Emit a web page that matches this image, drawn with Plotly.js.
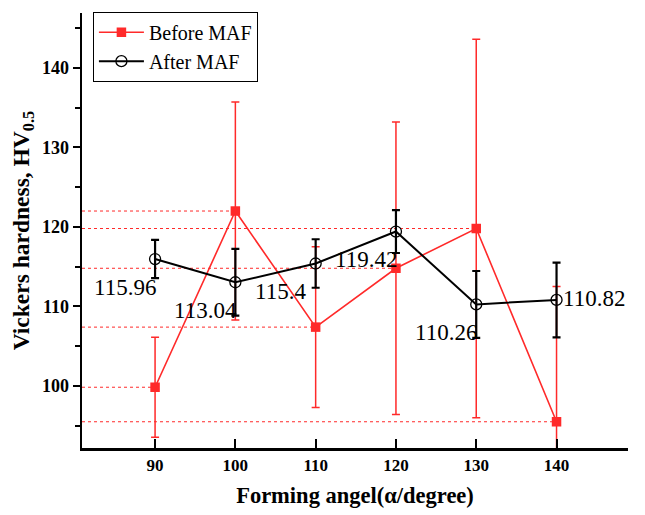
<!DOCTYPE html>
<html>
<head>
<meta charset="utf-8">
<script src="https://cdn.plot.ly/plotly-3.0.1.min.js"></script>
<style>html,body{margin:0;padding:0;background:#fff;}#chart{width:645px;height:515px;}</style>
</head>
<body>
<div id="chart"></div>
<script>
// ---- data ----
const angles = [90, 100, 110, 120, 130, 140];
const beforeMAF = [99.84, 122.0, 107.4, 114.8, 119.8, 95.5];
const beforeErr = [6.3, 13.7, 10.1, 18.4, 23.8, 17.0];
const afterMAF = [115.96, 113.04, 115.4, 119.42, 110.26, 110.82];
const afterErr = [2.4, 4.2, 3.05, 2.7, 4.2, 4.7];
const afterLabels = ['115.96', '113.04', '115.4', '119.42', '110.26', '110.82'];

const xRange = [80.9, 148.9];
const yRange = [92.2, 146.9];
const red = '#ff2a2a';

const traces = [
  {
    x: angles, y: beforeMAF, name: 'Before MAF', type: 'scatter', mode: 'lines+markers',
    line: {color: red, width: 1.6},
    marker: {symbol: 'square', size: 9.5, color: red},
    error_y: {type: 'data', array: beforeErr, visible: true, color: red, thickness: 1.5, width: 4}
  },
  {
    x: angles, y: afterMAF, name: 'After MAF', type: 'scatter', mode: 'lines+markers',
    line: {color: 'black', width: 2},
    marker: {symbol: 'circle-open', size: 11, color: 'black', line: {width: 1.3, color: 'black'}},
    error_y: {type: 'data', array: afterErr, visible: true, color: 'black', thickness: 2.2, width: 4}
  }
];

// drop lines from y axis to each Before MAF point
const shapes = angles.map((a, i) => ({
  type: 'line', xref: 'x', yref: 'y', layer: 'below',
  x0: xRange[0], x1: a, y0: beforeMAF[i], y1: beforeMAF[i],
  line: {color: red, width: 1, dash: 'dot'}
}));

const annotations = angles.map((a, i) => {
  const last = i === angles.length - 1;
  return {
    x: a, y: afterMAF[i], xref: 'x', yref: 'y', text: afterLabels[i], showarrow: false,
    xanchor: 'left', yanchor: 'middle',
    xshift: last ? 4 : -63, yshift: last ? 1 : -28,
    font: {family: 'Liberation Serif', size: 23, color: 'black'}
  };
});

const serif = 'Liberation Serif, Times New Roman, serif';

const layout = {
  width: 645, height: 515,
  margin: {l: 82, r: 17, t: 13, b: 67},
  paper_bgcolor: 'white', plot_bgcolor: 'white',
  showlegend: true,
  legend: {
    x: 0.02, y: 1.003, xanchor: 'left', yanchor: 'top',
    bordercolor: 'black', borderwidth: 1, bgcolor: 'white',
    font: {family: serif, size: 20, color: 'black'},
    itemwidth: 45,
    tracegroupgap: 0
  },
  xaxis: {
    range: xRange, tickmode: 'array', tickvals: angles, ticktext: angles.map(String),
    showgrid: false, zeroline: false, showline: true, linecolor: 'black', linewidth: 2.5,
    ticks: 'inside', ticklen: 9, tickwidth: 2, tickcolor: 'black',
    tickfont: {family: serif, size: 17, color: 'black', weight: 'bold'},
    title: {text: 'Forming angel(α/degree)', font: {family: serif, size: 22.5, color: 'black', weight: 'bold'}, standoff: 14}
  },
  yaxis: {
    range: yRange, tickvals: [100, 110, 120, 130, 140],
    showgrid: false, zeroline: false, showline: true, linecolor: 'black', linewidth: 2.5,
    ticks: 'outside', ticklen: 7, tickwidth: 2, tickcolor: 'black',
    minor: {dtick: 5, tick0: 0, ticks: 'outside', ticklen: 5, tickwidth: 2, tickcolor: 'black', showgrid: false},
    tickfont: {family: serif, size: 18, color: 'black', weight: 'bold'},
    title: {text: 'Vickers hardness, HV<sub>0.5</sub>', font: {family: serif, size: 23.5, color: 'black', weight: 'bold'}, standoff: 6}
  },
  shapes: shapes,
  annotations: annotations
};

Plotly.newPlot('chart', traces, layout, {displayModeBar: false, staticPlot: true});
</script>
</body>
</html>
